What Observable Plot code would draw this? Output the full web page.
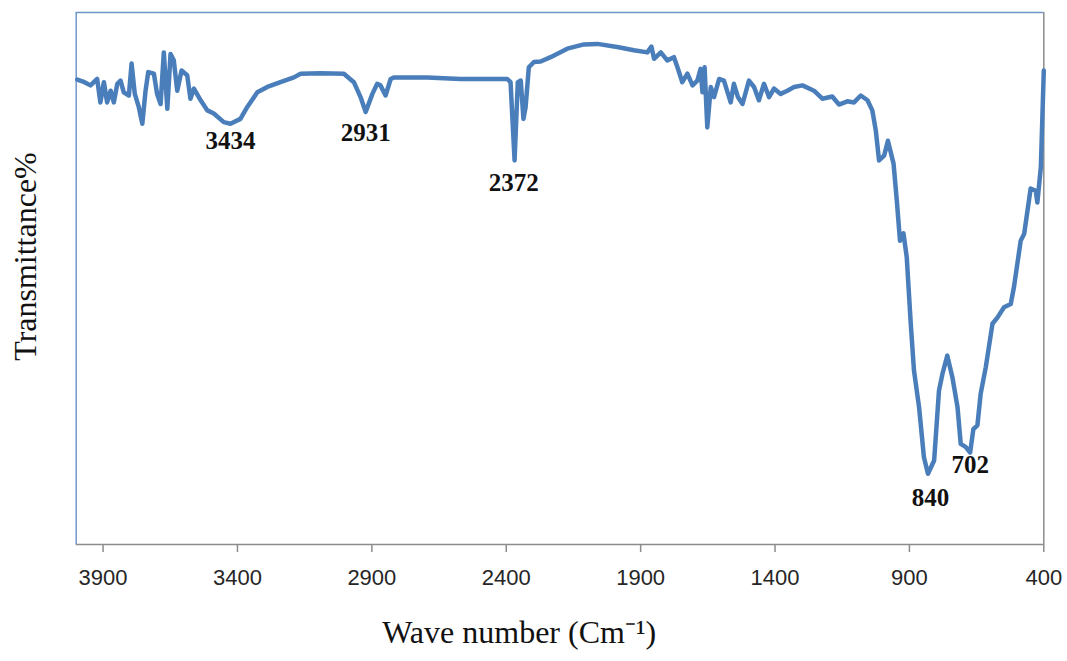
<!DOCTYPE html>
<html>
<head>
<meta charset="utf-8">
<script src="https://cdn.jsdelivr.net/npm/d3@7"></script>
<script src="https://cdn.jsdelivr.net/npm/@observablehq/plot@0.6"></script>
<style>
  html, body { margin: 0; padding: 0; background: #ffffff; }
  #chart { width: 1067px; height: 661px; }
</style>
</head>
<body>
<div id="chart"></div>
<script>
// Wavenumber (cm-1) and transmittance (%, relative)
const waveNumber = [
  3996, 3969, 3947, 3922, 3910, 3897, 3885, 3872, 3860, 3847, 3835, 3823, 3804, 3794, 3782,
  3767, 3754, 3742, 3732, 3711, 3699, 3686, 3674, 3661, 3649, 3637, 3624, 3608, 3587, 3575,
  3562, 3537, 3512, 3488, 3451,
  3426, 3389, 3364, 3326, 3289, 3240, 3190, 3165, 3091, 3004, 2967, 2942, 2923, 2898, 2880,
  2868, 2849, 2830, 2818, 2694, 2570, 2396, 2384, 2369, 2357, 2346, 2336, 2328, 2316, 2297,
  2272, 2235, 2173, 2111, 2061, 1987, 1925, 1875, 1860, 1850, 1825, 1801, 1776, 1763, 1745,
  1726, 1707, 1689, 1677, 1670, 1662, 1652, 1639, 1627, 1608, 1590, 1565, 1553, 1538, 1521,
  1497, 1478, 1460, 1441, 1422, 1404, 1379, 1354, 1329, 1298, 1255, 1224, 1187, 1162, 1131,
  1106, 1081, 1056, 1038, 1025, 1013, 994, 980, 959, 947, 935, 922, 910, 895, 883,
  864, 846, 831, 808, 790, 777, 759, 740, 721, 709, 690, 674, 662, 647, 635,
  616, 591, 572, 548, 523, 511, 486, 473, 449, 430, 424, 411, 400
];
const transmittance = [
  87.4, 86.9, 86.3, 87.5, 83.1, 86.9, 83.1, 85.3, 83.1, 86.6, 87.2, 85.0, 84.4, 90.4, 84.7,
  82.2, 79.1, 85.3, 88.8, 88.5, 84.7, 82.8, 92.5, 81.9, 92.2, 91.0, 85.3, 89.1, 88.2, 83.8,
  85.7, 83.5, 81.6, 81.0, 79.4,
  79.1, 80.0, 82.2, 85.0, 86.0, 86.9, 87.8, 88.5, 88.6, 88.5, 86.9, 84.1, 81.3, 84.7, 86.6,
  86.3, 84.4, 87.5, 87.8, 87.8, 87.5, 87.5, 86.9, 72.2, 86.9, 87.2, 80.0, 82.2, 89.7, 90.7,
  90.8, 91.6, 93.2, 94.0, 94.1, 93.5, 92.9, 92.5, 93.6, 91.3, 92.5, 91.0, 91.6, 89.7, 86.9,
  88.5, 86.3, 87.2, 89.4, 85.0, 89.7, 78.4, 86.0, 84.1, 87.5, 87.2, 83.1, 86.6, 84.1, 82.8,
  87.2, 86.0, 83.5, 86.6, 84.1, 85.7, 84.7, 85.3, 86.0, 86.3, 85.3, 83.8, 84.2, 82.7, 83.3,
  83.1, 84.4, 83.5, 81.6, 77.8, 72.2, 73.1, 75.9, 71.6, 64.7, 57.1, 58.5, 54.0, 41.5, 32.7,
  25.8, 16.4, 13.3, 15.8, 28.9, 32.1, 35.5, 31.4, 25.8, 18.9, 18.3, 17.3, 21.7, 22.4, 28.3,
  33.3, 41.5, 42.7, 44.6, 45.2, 48.4, 57.1, 58.4, 66.9, 66.5, 64.3, 70.9, 89.1
];

// Peak annotations: label text, label centre wavenumber, label centre transmittance
const peakLabels = ["3434", "2931", "2372", "840", "702"];
const peakLabelWave = [3426, 2923, 2372, 822, 674];
const peakLabelT = [75.9, 77.3, 68.0, 8.8, 15.0];

// Axis
const xDomain = [4000, 400];
const yDomain = [0, 100];
const xTicks = [3900, 3400, 2900, 2400, 1900, 1400, 900, 400];
const xTitle = "Wave number (Cm\u207B\u00B9)";
const yTitle = "Transmittance%";

const spectrum = waveNumber.map((w, i) => ({w, t: transmittance[i]}));
const peaks = peakLabels.map((label, i) => ({label, w: peakLabelWave[i], t: peakLabelT[i]}));

const lineColor = "#4a7ebb";
const frameBlue = "#6f97cc";
const frameGrey = "#8c8c8c";

const chart = Plot.plot({
  width: 1067,
  height: 661,
  marginLeft: 75.7,
  marginRight: 23.7,
  marginTop: 12,
  marginBottom: 117,
  style: {fontFamily: "'Liberation Serif', 'Times New Roman', serif", background: "#ffffff", overflow: "visible"},
  x: {domain: xDomain},
  y: {domain: yDomain, axis: null},
  marks: [
    Plot.ruleY([yDomain[1]], {stroke: frameBlue, strokeWidth: 1.5}),
    Plot.ruleX([xDomain[0]], {stroke: frameBlue, strokeWidth: 1.5}),
    Plot.ruleX([xDomain[1]], {stroke: frameGrey, strokeWidth: 1.5}),
    Plot.ruleY([yDomain[0]], {stroke: frameGrey, strokeWidth: 1.5}),
    Plot.axisX({
      ticks: xTicks,
      tickFormat: d => String(d),
      tickSize: 8,
      tickPadding: 17,
      stroke: frameGrey,
      strokeWidth: 1.5,
      fill: "#262626",
      fontSize: 22,
      fontFamily: "'Liberation Sans', Arial, sans-serif",
      label: null
    }),
    Plot.line(spectrum, {
      x: "w", y: "t",
      stroke: lineColor,
      strokeWidth: 4.5,
      strokeLinejoin: "round",
      strokeLinecap: "round"
    }),
    Plot.text(peaks, {
      x: "w", y: "t", text: "label",
      fontSize: 25, fontWeight: "bold",
      fontFamily: "'Liberation Serif', 'Times New Roman', serif",
      fill: "#111111"
    }),
    Plot.text([xTitle], {
      frameAnchor: "bottom-left",
      textAnchor: "start",
      dx: 306,
      dy: 98,
      fontSize: 32,
      fill: "#111111",
      fontFamily: "'Liberation Serif', 'Times New Roman', serif"
    }),
    Plot.text([yTitle], {
      frameAnchor: "left",
      textAnchor: "middle",
      rotate: -90,
      dx: -50.7,
      dy: -22,
      fontSize: 32,
      fill: "#111111",
      fontFamily: "'Liberation Serif', 'Times New Roman', serif"
    })
  ]
});

document.getElementById("chart").appendChild(chart);
</script>
</body>
</html>
